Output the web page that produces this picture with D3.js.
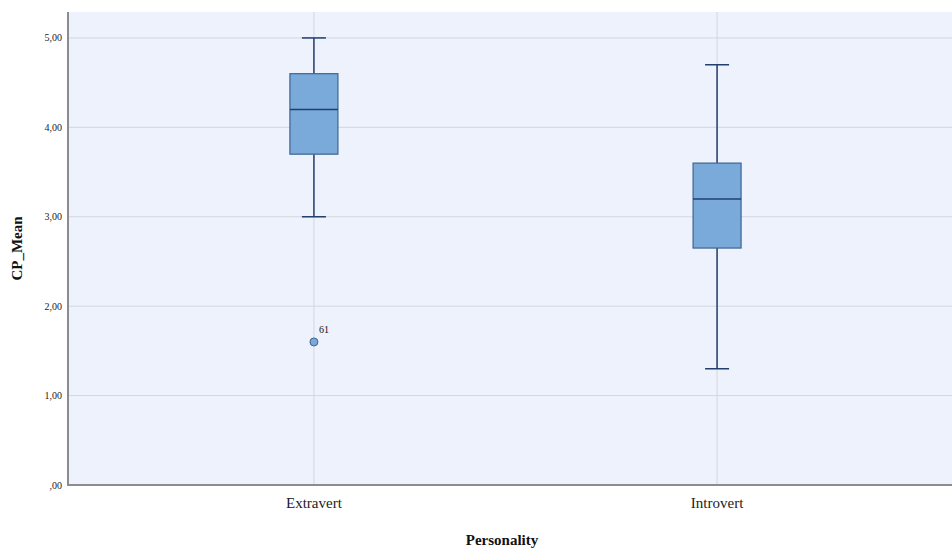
<!DOCTYPE html>
<html>
<head>
<meta charset="utf-8">
<script src="https://cdn.jsdelivr.net/npm/d3@7.9.0/dist/d3.min.js"></script>
<style>
  body { margin: 0; background: #fff; }
  svg { display: block; font-family: "Liberation Serif", "DejaVu Serif", serif; }
</style>
</head>
<body>
<svg id="chart" width="952" height="549"></svg>
<script>
// data
const categories = ['Extravert', 'Introvert'];
const whiskerLow  = [3.00, 1.30];
const q1          = [3.70, 2.65];
const median      = [4.20, 3.20];
const q3          = [4.60, 3.60];
const whiskerHigh = [5.00, 4.70];
const outliers = [{ cat: 'Extravert', value: 1.60, label: '61' }];
const yTicks = [0, 1, 2, 3, 4, 5];

const svg = d3.select('#chart');
const plotLeft = 68, plotTop = 12, plotBottom = 485, plotRight = 963;

let x = d3.scalePoint().domain(categories).range([plotLeft, plotRight]).padding(0.61);
let y = d3.scaleLinear().domain([0, 5.29]).range([plotBottom, plotTop]);

const fmt = (v) => v === 0 ? ',00' : d3.format('.2f')(v).replace('.', ',');

// plot background
svg.append('rect')
  .attr('x', plotLeft).attr('y', plotTop)
  .attr('width', 952 - plotLeft).attr('height', plotBottom - plotTop)
  .attr('fill', '#edf2fc');

// grid lines
svg.selectAll('.hgrid').data(yTicks.filter(d => d > 0)).join('line')
  .attr('x1', plotLeft).attr('x2', 952)
  .attr('y1', d => y(d)).attr('y2', d => y(d))
  .attr('stroke', '#d3d6de').attr('stroke-width', 1);
svg.selectAll('.vgrid').data(categories).join('line')
  .attr('x1', d => x(d)).attr('x2', d => x(d))
  .attr('y1', plotTop).attr('y2', plotBottom)
  .attr('stroke', '#d3d6de').attr('stroke-width', 1);

// boxes
const boxW = 48, capW = 24;
const groups = svg.selectAll('.box').data(categories).join('g');
groups.each(function (cat, i) {
  const g = d3.select(this);
  const cx = x(cat);
  const line = (x1, y1, x2, y2) => g.append('line')
    .attr('x1', x1).attr('y1', y1).attr('x2', x2).attr('y2', y2)
    .attr('stroke', '#223f6e').attr('stroke-width', 1.5);
  line(cx, y(whiskerHigh[i]), cx, y(q3[i]));
  line(cx, y(q1[i]), cx, y(whiskerLow[i]));
  line(cx - capW / 2, y(whiskerHigh[i]), cx + capW / 2, y(whiskerHigh[i]));
  line(cx - capW / 2, y(whiskerLow[i]), cx + capW / 2, y(whiskerLow[i]));
  g.append('rect')
    .attr('x', cx - boxW / 2).attr('y', y(q3[i]))
    .attr('width', boxW).attr('height', y(q1[i]) - y(q3[i]))
    .attr('fill', '#79aad9').attr('stroke', '#3f6391').attr('stroke-width', 1.2);
  line(cx - boxW / 2, y(median[i]), cx + boxW / 2, y(median[i]));
});

// outliers
outliers.forEach((o) => {
  svg.append('circle')
    .attr('cx', x(o.cat)).attr('cy', y(o.value)).attr('r', 4)
    .attr('fill', '#79aad9').attr('stroke', '#3f6391').attr('stroke-width', 1);
  svg.append('text')
    .attr('x', x(o.cat) + 5).attr('y', y(o.value) - 9)
    .attr('font-size', 10).attr('fill', '#111')
    .text(o.label);
});

// axes lines
svg.append('line').attr('x1', plotLeft).attr('x2', plotLeft).attr('y1', plotTop).attr('y2', plotBottom + 1)
  .attr('stroke', '#8c8c8c').attr('stroke-width', 2);
svg.append('line').attr('x1', plotLeft - 1).attr('x2', 952).attr('y1', plotBottom).attr('y2', plotBottom)
  .attr('stroke', '#8c8c8c').attr('stroke-width', 2);

// tick labels
svg.selectAll('.ytick').data(yTicks).join('text')
  .attr('x', plotLeft - 6).attr('y', d => y(d) + 3.5)
  .attr('text-anchor', 'end').attr('font-size', 10).attr('fill', '#222')
  .text(fmt);
svg.selectAll('.xtick').data(categories).join('text')
  .attr('x', d => x(d)).attr('y', plotBottom + 23)
  .attr('text-anchor', 'middle').attr('font-size', 15).attr('fill', '#222')
  .text(d => d);

// axis titles
svg.append('text')
  .attr('transform', `translate(22, ${(plotTop + plotBottom) / 2}) rotate(-90)`)
  .attr('text-anchor', 'middle').attr('font-size', 15).attr('font-weight', 'bold')
  .attr('fill', '#111').text('CP_Mean');
svg.append('text')
  .attr('x', 502).attr('y', 545)
  .attr('text-anchor', 'middle').attr('font-size', 15).attr('font-weight', 'bold')
  .attr('fill', '#111').text('Personality');
</script>
</body>
</html>
